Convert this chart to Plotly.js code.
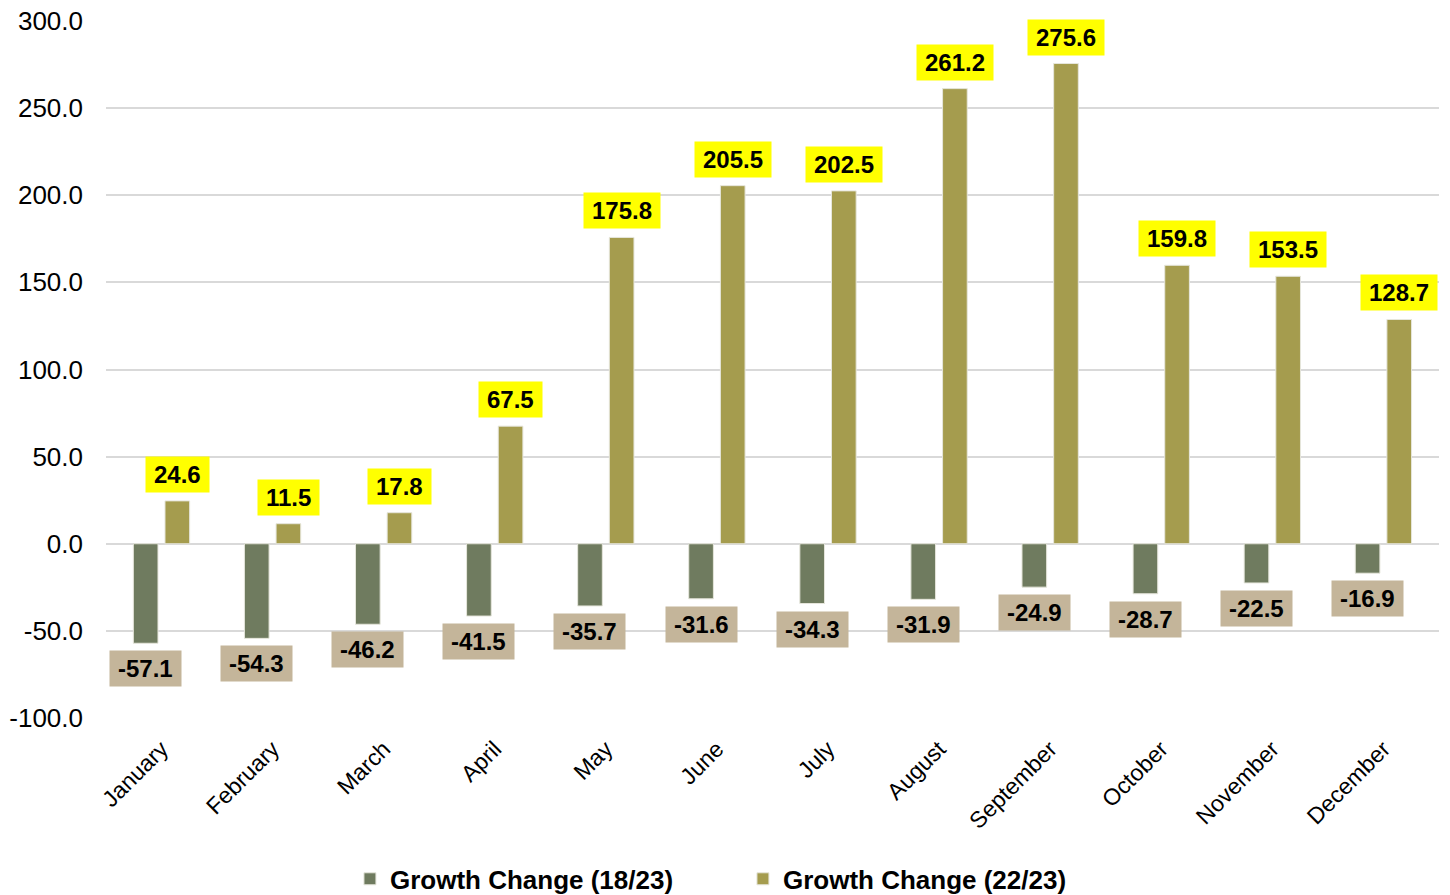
<!DOCTYPE html>
<html>
<head>
<meta charset="utf-8">
<script src="https://cdn.plot.ly/plotly-3.0.1.min.js"></script>
<style>html,body{margin:0;padding:0;background:#fff;}#chart{width:1450px;height:895px;}</style>
</head>
<body>
<div id="chart"></div>
<script>
var months = ["January","February","March","April","May","June","July","August","September","October","November","December"];
var growth1823 = [-57.1,-54.3,-46.2,-41.5,-35.7,-31.6,-34.3,-31.9,-24.9,-28.7,-22.5,-16.9];
var growth2223 = [24.6,11.5,17.8,67.5,175.8,205.5,202.5,261.2,275.6,159.8,153.5,128.7];
var seriesNames = ["Growth Change (18/23)","Growth Change (22/23)"];
var yTickVals = [-100,-50,0,50,100,150,200,250,300];
var yTickText = ["-100.0","-50.0","0.0","50.0","100.0","150.0","200.0","250.0","300.0"];

var FONT = "Liberation Sans, Arial, sans-serif";
var barW = 0.222, off1 = -0.254, off2 = 0.031;
var idx = months.map(function(m,i){return i;});

var traces = [
  {type:"bar", name:seriesNames[0], x:idx, y:growth1823, width:barW, offset:off1,
   marker:{color:"#6F7B5F", line:{color:"#E6E6DC", width:1}}, hoverinfo:"y"},
  {type:"bar", name:seriesNames[1], x:idx, y:growth2223, width:barW, offset:off2,
   marker:{color:"#A59C4E", line:{color:"#E6E6DC", width:1}}, hoverinfo:"y"}
];

var sp = "\u2006";
var annotations = [];
growth1823.forEach(function(v,i){
  annotations.push({x:i+off1+barW/2, y:v, xref:"x", yref:"y", text:sp+v.toFixed(1)+sp,
    showarrow:false, yanchor:"top", yshift:-7, bgcolor:"#C4B59A", borderpad:4,
    font:{family:FONT, size:24, color:"#000", weight:"bold"}});
});
growth2223.forEach(function(v,i){
  annotations.push({x:i+off2+barW/2, y:v, xref:"x", yref:"y", text:sp+v.toFixed(1)+sp,
    showarrow:false, yanchor:"bottom", yshift:8, bgcolor:"#FFFF00", borderpad:4,
    font:{family:FONT, size:24, color:"#000", weight:"bold"}});
});

var layout = {
  width:1450, height:895,
  margin:{l:106, r:11, t:21, b:177},
  paper_bgcolor:"#fff", plot_bgcolor:"#fff",
  font:{family:FONT, size:26, color:"#000"},
  showlegend:true,
  legend:{orientation:"h", xref:"paper", yref:"container", x:0.183, xanchor:"left", y:0.018, yanchor:"middle",
    font:{family:FONT, size:26, color:"#000", weight:"bold"}, entrywidth:348, traceorder:"normal"},
  xaxis:{range:[-0.5,11.5], tickmode:"array", tickvals:idx, ticktext:months, tickangle:-45,
    showgrid:false, zeroline:false, showline:false, ticks:"", ticklabelstandoff:12,
    tickfont:{family:FONT, size:23, color:"#000"}},
  yaxis:{range:[-100,300], tickmode:"array", tickvals:yTickVals, ticktext:yTickText,
    showgrid:true, gridcolor:"#D9D9D9", gridwidth:2,
    zeroline:true, zerolinecolor:"#D9D9D9", zerolinewidth:2, showline:false, ticks:"",
    ticklabelstandoff:22, tickfont:{family:FONT, size:26, color:"#000"}},
  annotations:annotations
};

Plotly.newPlot("chart", traces, layout, {displayModeBar:false, staticPlot:true});
</script>
</body>
</html>
